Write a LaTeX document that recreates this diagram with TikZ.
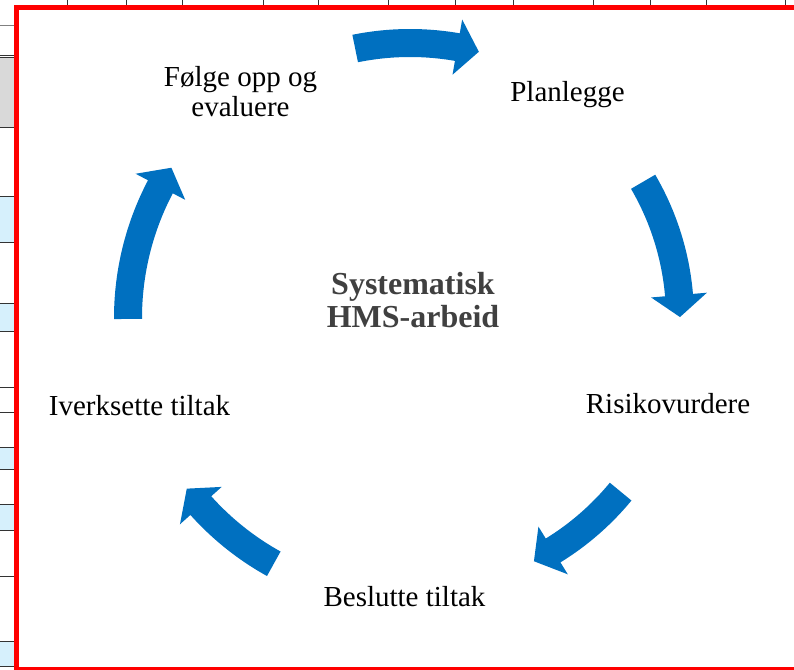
\documentclass[tikz,border=0pt]{standalone}
\usepackage{fontspec}
\setmainfont{Liberation Serif}
\definecolor{hmsblue}{RGB}{0,112,192}
\definecolor{titlegray}{RGB}{64,64,64}
\definecolor{cellblue}{RGB}{214,240,252}
\definecolor{cellgray}{RGB}{217,217,217}

\begin{document}
\begin{tikzpicture}[x=0.5pt, y=0.5pt,
        stagetext/.style={font=\fontsize{14.5}{15}\selectfont, align=center, inner sep=0pt},
        centretitle/.style={font=\fontsize{16}{16.5}\selectfont\bfseries, text=titlegray, align=center, inner sep=0pt},
        cyclearrow/.style={fill=hmsblue},
        gridline/.style={line width=0.5pt, black!80},
        frame/.style={draw=red, line width=2.5pt}
    ]
        \useasboundingbox (0,0) rectangle (794,670);
        \clip (0,0) rectangle (794,670);
        \fill[white] (0,0) rectangle (794,670);

        % Spreadsheet behind the frame
        \fill[cellgray] (0,670-58) rectangle (14,670-128);
        \foreach \ya/\yb in {197/243, 304/332, 448/470, 505/531, 642/667} {
            \fill[cellblue] (0,670-\ya) rectangle (14,670-\yb);
        }
        \draw[gridline, gray] (0,670-26) -- (14,670-26);
        \foreach \y in {56, 58, 128, 197, 243, 304, 332, 388, 413, 448, 470, 505, 531, 577, 642, 667} {
            \draw[gridline] (0,670-\y) -- (14,670-\y);
        }
        \foreach \x in {67, 126, 182, 263, 318, 388, 455, 513, 593, 650, 706, 785} {
            \draw[gridline] (\x,670) -- (\x,664);
        }

        % Frame
        \draw[frame] (16.5,662.5) rectangle (820,0.5);

        % Cycle arrows
        \begin{scope}[shift={(410,352)}]
        \foreach \ta/\tb/\rad in {101.5/75.5/275, 30.3/0.2/270, -39.5/-63/273, -119/-142.6/281, 180.2/147.8/282} {
            \pgfmathsetmacro\hb{\tb+22/\rad*57.2958}
            \pgfmathsetmacro\rout{\rad+14}
            \pgfmathsetmacro\rin{\rad-14}
            \pgfmathsetmacro\hout{\rad+28}
            \pgfmathsetmacro\hin{\rad-28}
            \fill[cyclearrow] (\ta:\rout) arc[start angle=\ta, end angle=\hb, radius=\rout]
                -- (\hb:\hout) -- (\tb:\rad) -- (\hb:\hin) -- (\hb:\rin)
                arc[start angle=\hb, end angle=\ta, radius=\rin] -- cycle;
        }
        \end{scope}

        % Stages
        \node[stagetext] (follow) at (240.5,578) {Følge opp og\\evaluere};
        \node[stagetext, anchor=base] (plan) at (567.5,568) {Planlegge};
        \node[stagetext, anchor=base] (risk) at (668,256) {Risikovurdere};
        \node[stagetext, anchor=base] (decide) at (404.5,63) {Beslutte tiltak};
        \node[stagetext, anchor=base] (implement) at (139.5,254) {Iverksette tiltak};

        % Centre
        \node[centretitle] (title) at (413,370) {Systematisk\\HMS-arbeid};

    \end{tikzpicture}
\end{document}
